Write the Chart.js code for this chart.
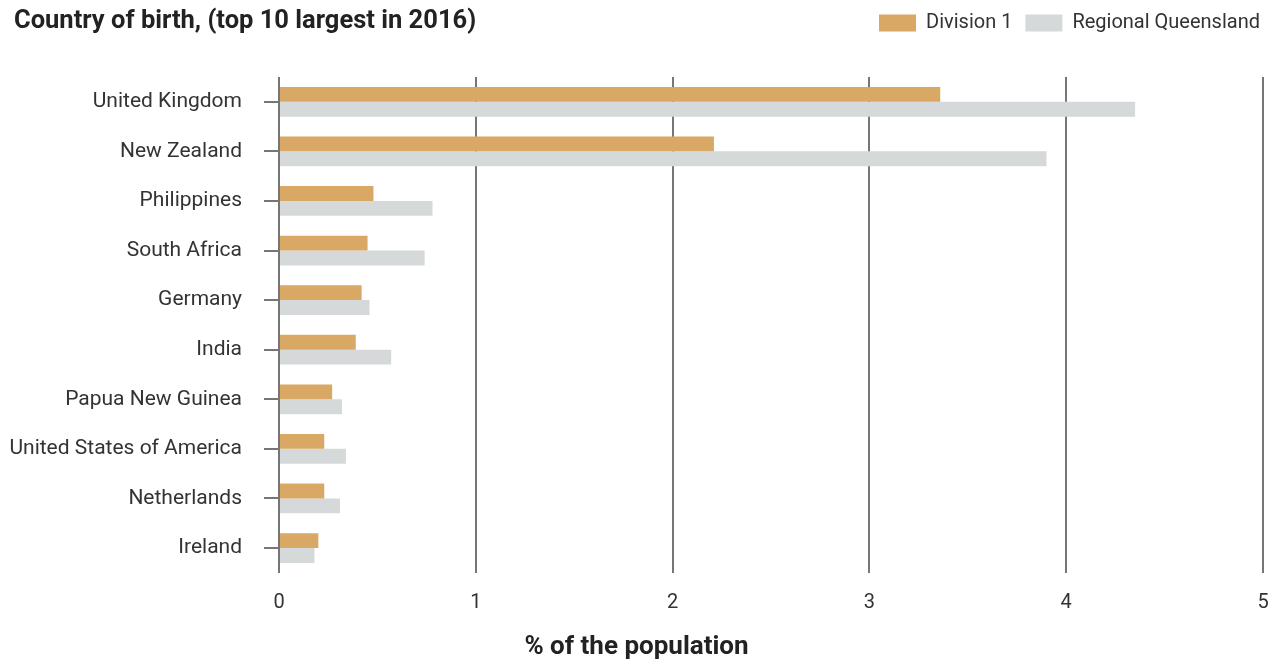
<!DOCTYPE html>
<html>
<head>
<meta charset="utf-8">
<script src="https://cdn.jsdelivr.net/npm/chart.js@4"></script>
<style>
  html, body { margin: 0; padding: 0; background: #fff; overflow: hidden; }
  #wrap { position: relative; width: 1280px; height: 663px; }
  #myChart { display: block; }
  #title {
    position: absolute; left: 14px; top: 4px;
    font: bold 25.5px Roboto, sans-serif; color: #222;
  }
</style>
</head>
<body>
<div id="wrap">
  <div id="title">Country of birth, (top 10 largest in 2016)</div>
  <canvas id="myChart" width="1280" height="663"></canvas>
</div>
<script>
const countries = [
  "United Kingdom", "New Zealand", "Philippines", "South Africa", "Germany",
  "India", "Papua New Guinea", "United States of America", "Netherlands", "Ireland"
];
const division1 = [3.36, 2.21, 0.48, 0.45, 0.42, 0.39, 0.27, 0.23, 0.23, 0.20];
const regionalQld = [4.35, 3.90, 0.78, 0.74, 0.46, 0.57, 0.32, 0.34, 0.31, 0.18];
const xTicks = [0, 1, 2, 3, 4, 5];

const ctx = document.getElementById("myChart");
const textColor = "#333";

// push the plot down below the legend row
const legendSpace = {
  id: "legendSpace",
  beforeInit(chart) {
    const fit = chart.legend.fit;
    chart.legend.fit = function () {
      fit.call(this);
      this.height += 34;
    };
  },
};

const myChart = new Chart(ctx, {
  type: "bar",
  data: {
    labels: countries,
    datasets: [
      {
        label: "Division 1",
        data: division1,
        backgroundColor: "#d9a864",
      },
      {
        label: "Regional Queensland",
        data: regionalQld,
        backgroundColor: "#d5d9da",
      },
    ],
  },
  options: {
    indexAxis: "y",
    responsive: false,
    animation: false,
    categoryPercentage: 0.6,
    barPercentage: 1,
    layout: {
      padding: { top: 0, right: 7, left: 0, bottom: 0 },
    },
    plugins: {
      legend: {
        position: "top",
        align: "end",
        labels: {
          boxWidth: 37,
          boxHeight: 17,
          padding: 13,
          color: textColor,
          font: { family: "Roboto", size: 20 },
        },
      },
      subtitle: {
        display: true,
        position: "bottom",
        text: "% of the population",
        color: "#222",
        font: { family: "Roboto", size: 26, weight: "bold" },
        padding: { top: 0, bottom: 0 },
      },
      tooltip: { enabled: false },
    },
    scales: {
      x: {
        min: 0,
        max: 5,
        afterBuildTicks: (scale) => {
          scale.ticks = xTicks.map((v) => ({ value: v }));
        },
        afterFit: (scale) => {
          scale.height = 59;
          scale.paddingLeft = 0;
          scale.paddingRight = 17;
        },
        grid: {
          color: "#767676",
          lineWidth: 2,
          drawTicks: false,
        },
        border: { display: false },
        ticks: {
          padding: 18,
          color: textColor,
          font: { family: "Roboto", size: 20 },
        },
      },
      y: {
        afterFit: (scale) => {
          scale.width = 279;
        },
        grid: {
          offset: false,
          drawOnChartArea: false,
          tickLength: 15,
          color: "#767676",
          lineWidth: 2,
        },
        border: { display: false },
        ticks: {
          padding: 22,
          color: textColor,
          font: { family: "Roboto", size: 21 },
        },
      },
    },
  },
  plugins: [legendSpace],
});
</script>
</body>
</html>
